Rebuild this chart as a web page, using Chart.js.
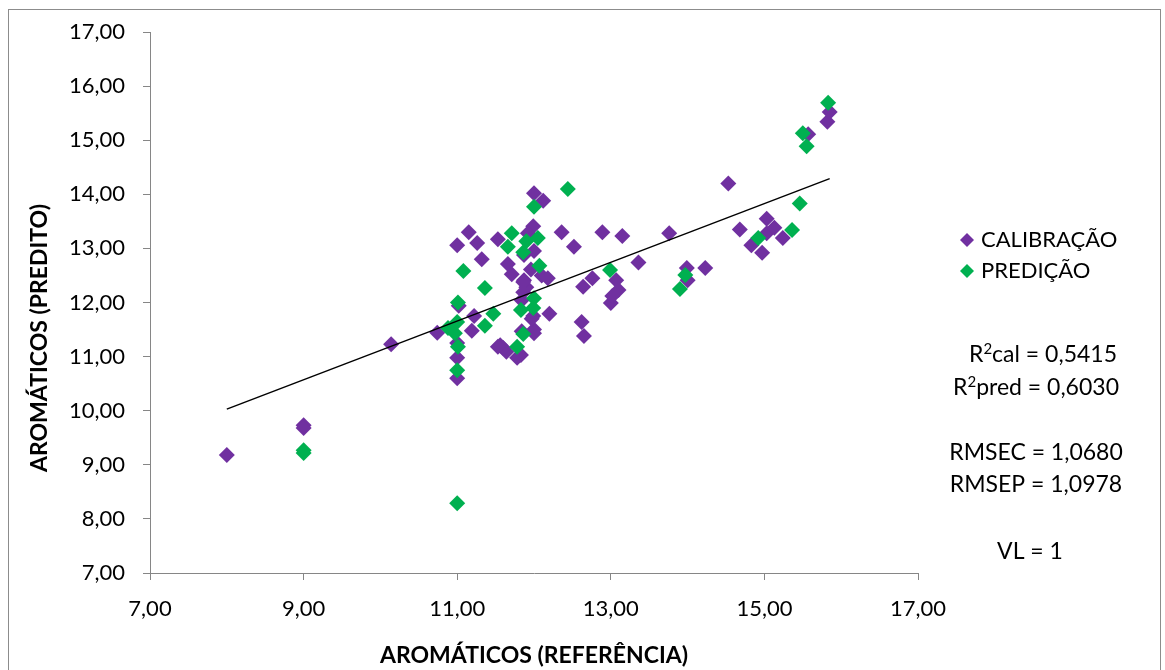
<!DOCTYPE html>
<html>
<head>
<meta charset="utf-8">
<script src="https://cdn.jsdelivr.net/npm/chart.js@4.4.0/dist/chart.umd.min.js"></script>
<style>
  html, body { margin: 0; padding: 0; background: #fff; }
  #wrap { width: 1165px; height: 670px; position: relative; }
</style>
</head>
<body>
<div id="wrap"><canvas id="chart" width="1165" height="670"></canvas></div>
<script>
// calibration points [referencia, predito]
var calX = [8.00, 9.00, 9.00, 10.14, 10.74, 11.00, 11.00, 11.00, 11.00, 11.02,
            11.15, 11.19, 11.22, 11.26, 11.32, 11.53, 11.56, 11.64, 11.66, 11.71,
            11.78, 11.84, 11.84, 11.87, 11.87, 11.90, 11.96, 11.99, 11.99, 12.00,
            12.00, 12.00, 12.00, 12.10, 12.12, 12.18, 12.20, 12.36, 12.52, 12.62,
            12.65, 12.64, 12.76, 12.89, 13.00, 13.02, 13.07, 13.10, 13.15, 13.36,
            13.76, 13.99, 14.00, 14.23, 14.53, 14.68, 14.83, 14.97, 15.03, 15.03,
            15.13, 15.24, 15.57, 15.82, 15.85, 11.92, 11.86, 11.86, 11.97, 11.60,
            11.83, 11.53];
var calY = [9.18, 9.73, 9.68, 11.23, 11.44, 13.06, 11.25, 10.98, 10.60, 11.94,
            13.30, 11.48, 11.75, 13.10, 12.80, 13.17, 11.21, 11.09, 12.71, 12.52,
            10.98, 11.47, 12.04, 12.88, 12.41, 12.28, 12.61, 13.41, 11.75, 14.02,
            12.95, 11.43, 11.50, 12.50, 13.88, 12.45, 11.79, 13.30, 13.03, 11.64,
            11.38, 12.29, 12.45, 13.30, 11.99, 12.12, 12.41, 12.23, 13.23, 12.74,
            13.28, 12.64, 12.41, 12.64, 14.20, 13.35, 13.06, 12.92, 13.55, 13.28,
            13.38, 13.19, 15.11, 15.34, 15.52, 13.28, 12.38, 12.19, 11.70, 11.16,
            11.03, 11.18];

// prediction points
var predX = [9.00, 9.00, 10.88, 10.97, 11.00, 11.00, 11.01, 11.01, 11.00, 11.08,
             11.36, 11.36, 11.47, 11.66, 11.71, 11.78, 11.83, 11.86, 11.86, 11.90,
             12.00, 12.00, 11.99, 12.05, 12.07, 12.44, 12.99, 13.90, 13.97, 14.92,
             15.36, 15.46, 15.50, 15.55, 15.83];
var predY = [9.27, 9.22, 11.53, 11.43, 11.64, 8.29, 12.00, 11.18, 10.75, 12.58,
             12.27, 11.57, 11.79, 13.03, 13.28, 11.18, 11.86, 11.42, 12.93, 13.13,
             13.77, 12.08, 11.90, 13.19, 12.68, 14.10, 12.60, 12.25, 12.51, 13.19,
             13.34, 13.83, 15.13, 14.89, 15.69];

// trend line ends
var lineX = [8.00, 15.85];
var lineY = [10.03, 14.29];

var yTitle = "AROMÁTICOS (PREDITO)";
var xTitle = "AROMÁTICOS (REFERÊNCIA)";

var stats = [
    { sup: true, pre: "R", rest: "cal = 0,5415", y: 355, dx: 7 },
    { sup: true, pre: "R", rest: "pred = 0,6030", y: 388, dx: 0 },
    { sup: false, pre: "", rest: "RMSEC = 1,0680", y: 453, dx: 0 },
    { sup: false, pre: "", rest: "RMSEP = 1,0978", y: 485, dx: 0 },
    { sup: false, pre: "", rest: "VL = 1", y: 552, dx: -6 }
];

function pts(xs, ys) {
    var out = [];
    for (var i = 0; i < xs.length; i++) out.push({ x: xs[i], y: ys[i] });
    return out;
}

function comma(v) {
    return v.toFixed(2).replace(".", ",");
}

var FONT = "Lato, 'Open Sans', sans-serif";
var axisGray = "#868686";

var extras = {
    id: "extras",
    afterDraw: function(chart) {
        var ctx = chart.ctx;
        ctx.save();
        // outer frame
        ctx.strokeStyle = "#8c8c8c";
        ctx.lineWidth = 1;
        ctx.strokeRect(8.5, 9.5, 1152, 680);

        // y axis title (sits a bit lower than the axis middle)
        ctx.save();
        ctx.translate(40, 338);
        ctx.rotate(-Math.PI / 2);
        ctx.font = "bold 23px " + FONT;
        ctx.fillStyle = "#000";
        ctx.textAlign = "center";
        ctx.textBaseline = "middle";
        ctx.fillText(yTitle, 0, 0);
        ctx.restore();

        // legend
        var sets = [chart.data.datasets[2], chart.data.datasets[1]];
        ctx.font = "22px " + FONT;
        ctx.textBaseline = "middle";
        ctx.textAlign = "left";
        for (var i = 0; i < sets.length; i++) {
            var ly = 240 + i * 31;
            ctx.fillStyle = sets[i].backgroundColor;
            ctx.beginPath();
            ctx.moveTo(967, ly - 7);
            ctx.lineTo(974, ly);
            ctx.lineTo(967, ly + 7);
            ctx.lineTo(960, ly);
            ctx.closePath();
            ctx.fill();
            ctx.fillStyle = "#000";
            ctx.fillText(sets[i].label, 981, ly);
        }

        // statistics
        var cx = 1036;
        for (var j = 0; j < stats.length; j++) {
            var s = stats[j];
            ctx.font = "23px " + FONT;
            var w1 = ctx.measureText(s.pre).width;
            var w3 = ctx.measureText(s.rest).width;
            ctx.font = "15px " + FONT;
            var w2 = s.sup ? ctx.measureText("2").width : 0;
            var x0 = cx + s.dx - (w1 + w2 + w3) / 2;
            ctx.fillStyle = "#000";
            ctx.font = "23px " + FONT;
            ctx.fillText(s.pre, x0, s.y);
            if (s.sup) {
                ctx.font = "15px " + FONT;
                ctx.fillText("2", x0 + w1, s.y - 6);
            }
            ctx.font = "23px " + FONT;
            ctx.fillText(s.rest, x0 + w1 + w2, s.y);
        }
        ctx.restore();
    }
};

new Chart(document.getElementById("chart").getContext("2d"), {
    type: "scatter",
    data: {
        datasets: [
            {
                type: "line",
                label: "Tendência",
                data: pts(lineX, lineY),
                borderColor: "#000",
                borderWidth: 1.5,
                pointRadius: 0,
                fill: false
            },
            {
                label: "PREDIÇÃO",
                data: pts(predX, predY),
                backgroundColor: "#00B050",
                borderColor: "#00B050",
                borderWidth: 0,
                pointStyle: "rectRot",
                pointRadius: 8
            },
            {
                label: "CALIBRAÇÃO",
                data: pts(calX, calY),
                backgroundColor: "#7030A0",
                borderColor: "#7030A0",
                borderWidth: 0,
                pointStyle: "rectRot",
                pointRadius: 8
            }
        ]
    },
    options: {
        responsive: false,
        animation: false,
        layout: { padding: { left: 0, top: 32, right: 247, bottom: 0 } },
        plugins: {
            legend: { display: false },
            tooltip: { enabled: false }
        },
        scales: {
            x: {
                type: "linear",
                min: 7,
                max: 17,
                afterFit: function(scale) { scale.height = 97; },
                ticks: {
                    stepSize: 2,
                    padding: 16,
                    color: "#000",
                    font: { family: FONT, size: 22 },
                    callback: function(v) { return comma(v); }
                },
                grid: {
                    drawOnChartArea: false,
                    tickLength: 7,
                    color: axisGray
                },
                border: { color: axisGray, width: 1 },
                title: {
                    display: true,
                    text: xTitle,
                    color: "#000",
                    font: { family: FONT, size: 23, weight: "bold" },
                    padding: { top: 0, bottom: 1 }
                }
            },
            y: {
                type: "linear",
                min: 7,
                max: 17,
                afterFit: function(scale) { scale.width = 150; },
                ticks: {
                    stepSize: 1,
                    padding: 18,
                    color: "#000",
                    font: { family: FONT, size: 22 },
                    callback: function(v) { return comma(v); }
                },
                grid: {
                    drawOnChartArea: false,
                    tickLength: 7,
                    color: axisGray
                },
                border: { color: axisGray, width: 1 },
                title: { display: false }
            }
        }
    },
    plugins: [extras]
});
</script>
</body>
</html>
